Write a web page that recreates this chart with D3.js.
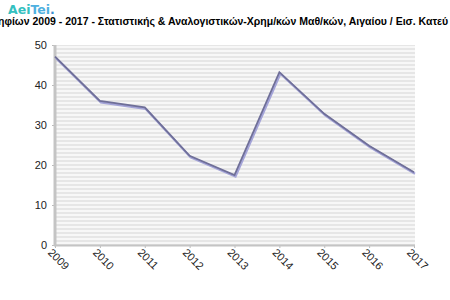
<!DOCTYPE html>
<html>
<head>
<meta charset="utf-8">
<script src="https://cdn.jsdelivr.net/npm/d3@7"></script>
<style>
  body { margin: 0; background: #fff; }
  svg { display: block; }
  .axis text { font-family: "Liberation Sans", Arial, sans-serif; font-size: 11px; fill: #222; }
</style>
</head>
<body>
<script>
// data
var years = ["2009", "2010", "2011", "2012", "2013", "2014", "2015", "2016", "2017"];
var values = [47.1, 36.0, 34.4, 22.3, 17.5, 43.2, 32.8, 24.8, 18.2];
var yTicks = [0, 10, 20, 30, 40, 50];
var titleText = "ηφίων 2009 - 2017 - Στατιστικής & Αναλογιστικών-Χρημ/κών Μαθ/κών, Αιγαίου / Εισ. Κατεύ";

window.onload = function(){
  var w = 450, h = 300;
  var left = 55, right = 414, top = 45, bottom = 245;

  var svg = d3.select("body").append("svg")
      .attr("width", w)
      .attr("height", h);

  //striped background pattern
  var defs = svg.append("defs");
  var pat = defs.append("pattern")
      .attr("id", "stripes")
      .attr("patternUnits", "userSpaceOnUse")
      .attr("width", 8).attr("height", 4);
  pat.append("rect").attr("width", 8).attr("height", 4).attr("fill", "#f7f7f7");
  pat.append("rect").attr("y", 0).attr("width", 8).attr("height", 2).attr("fill", "#e6e6e6");

  var x = d3.scalePoint().domain(years).range([left, right]);
  var y = d3.scaleLinear().domain([0, 50]).range([bottom, top]);

  svg.append("rect")
      .attr("x", left).attr("y", top)
      .attr("width", right - left + 1).attr("height", bottom - top)
      .attr("fill", "url(#stripes)");

  //logo
  var logo = svg.append("text")
      .attr("x", 8).attr("y", 14)
      .style("font-family", "Verdana, 'DejaVu Sans', sans-serif")
      .style("font-size", "12.5px")
      .style("font-weight", "bold");
  logo.append("tspan").attr("fill", "#33c0c0").text("Aei");
  logo.append("tspan").attr("fill", "#4fb0e0").text("Tei");
  logo.append("tspan").attr("fill", "#3a8fd0").text(".");

  //title
  svg.append("text")
      .attr("x", -2).attr("y", 25)
      .style("font-family", "'Liberation Sans', Arial, sans-serif")
      .style("font-size", "10.5px")
      .style("font-weight", "bold")
      .attr("fill", "#000")
      .text(titleText);

  //y axis
  var yAxis = svg.append("g")
      .attr("class", "axis")
      .attr("transform", "translate(" + left + ",0)")
      .call(d3.axisLeft(y).tickValues(yTicks).tickSize(3).tickPadding(5));
  yAxis.select(".domain").remove();
  yAxis.selectAll(".tick line").attr("stroke", "#bbb");

  //x axis
  var xAxis = svg.append("g")
      .attr("class", "axis")
      .attr("transform", "translate(0," + bottom + ")")
      .call(d3.axisBottom(x).tickSize(3).tickPadding(3));
  xAxis.select(".domain").remove();
  xAxis.selectAll(".tick line").attr("stroke", "#bbb");
  xAxis.selectAll(".tick text")
      .attr("text-anchor", "start")
      .attr("dy", "0")
      .attr("transform", "translate(-4,4) rotate(45)");

  //axis lines
  svg.append("line")
      .attr("x1", left).attr("x2", left)
      .attr("y1", top).attr("y2", bottom + 1)
      .attr("stroke", "#c4c4c4").attr("stroke-width", 3);
  svg.append("line")
      .attr("x1", left - 1).attr("x2", right + 1)
      .attr("y1", bottom + 0.5).attr("y2", bottom + 0.5)
      .attr("stroke", "#c4c4c4").attr("stroke-width", 2);

  var line = d3.line()
      .x(function(d, i){ return x(years[i]); })
      .y(function(d){ return y(d); });

  //shadow
  svg.append("path")
      .datum(values)
      .attr("d", line)
      .attr("transform", "translate(1,1.5)")
      .attr("fill", "none")
      .attr("stroke", "#a4a4d8")
      .attr("stroke-width", 2.2);

  svg.append("path")
      .datum(values)
      .attr("d", line)
      .attr("fill", "none")
      .attr("stroke", "#6f6f98")
      .attr("stroke-width", 1.8);
};
</script>
</body>
</html>
